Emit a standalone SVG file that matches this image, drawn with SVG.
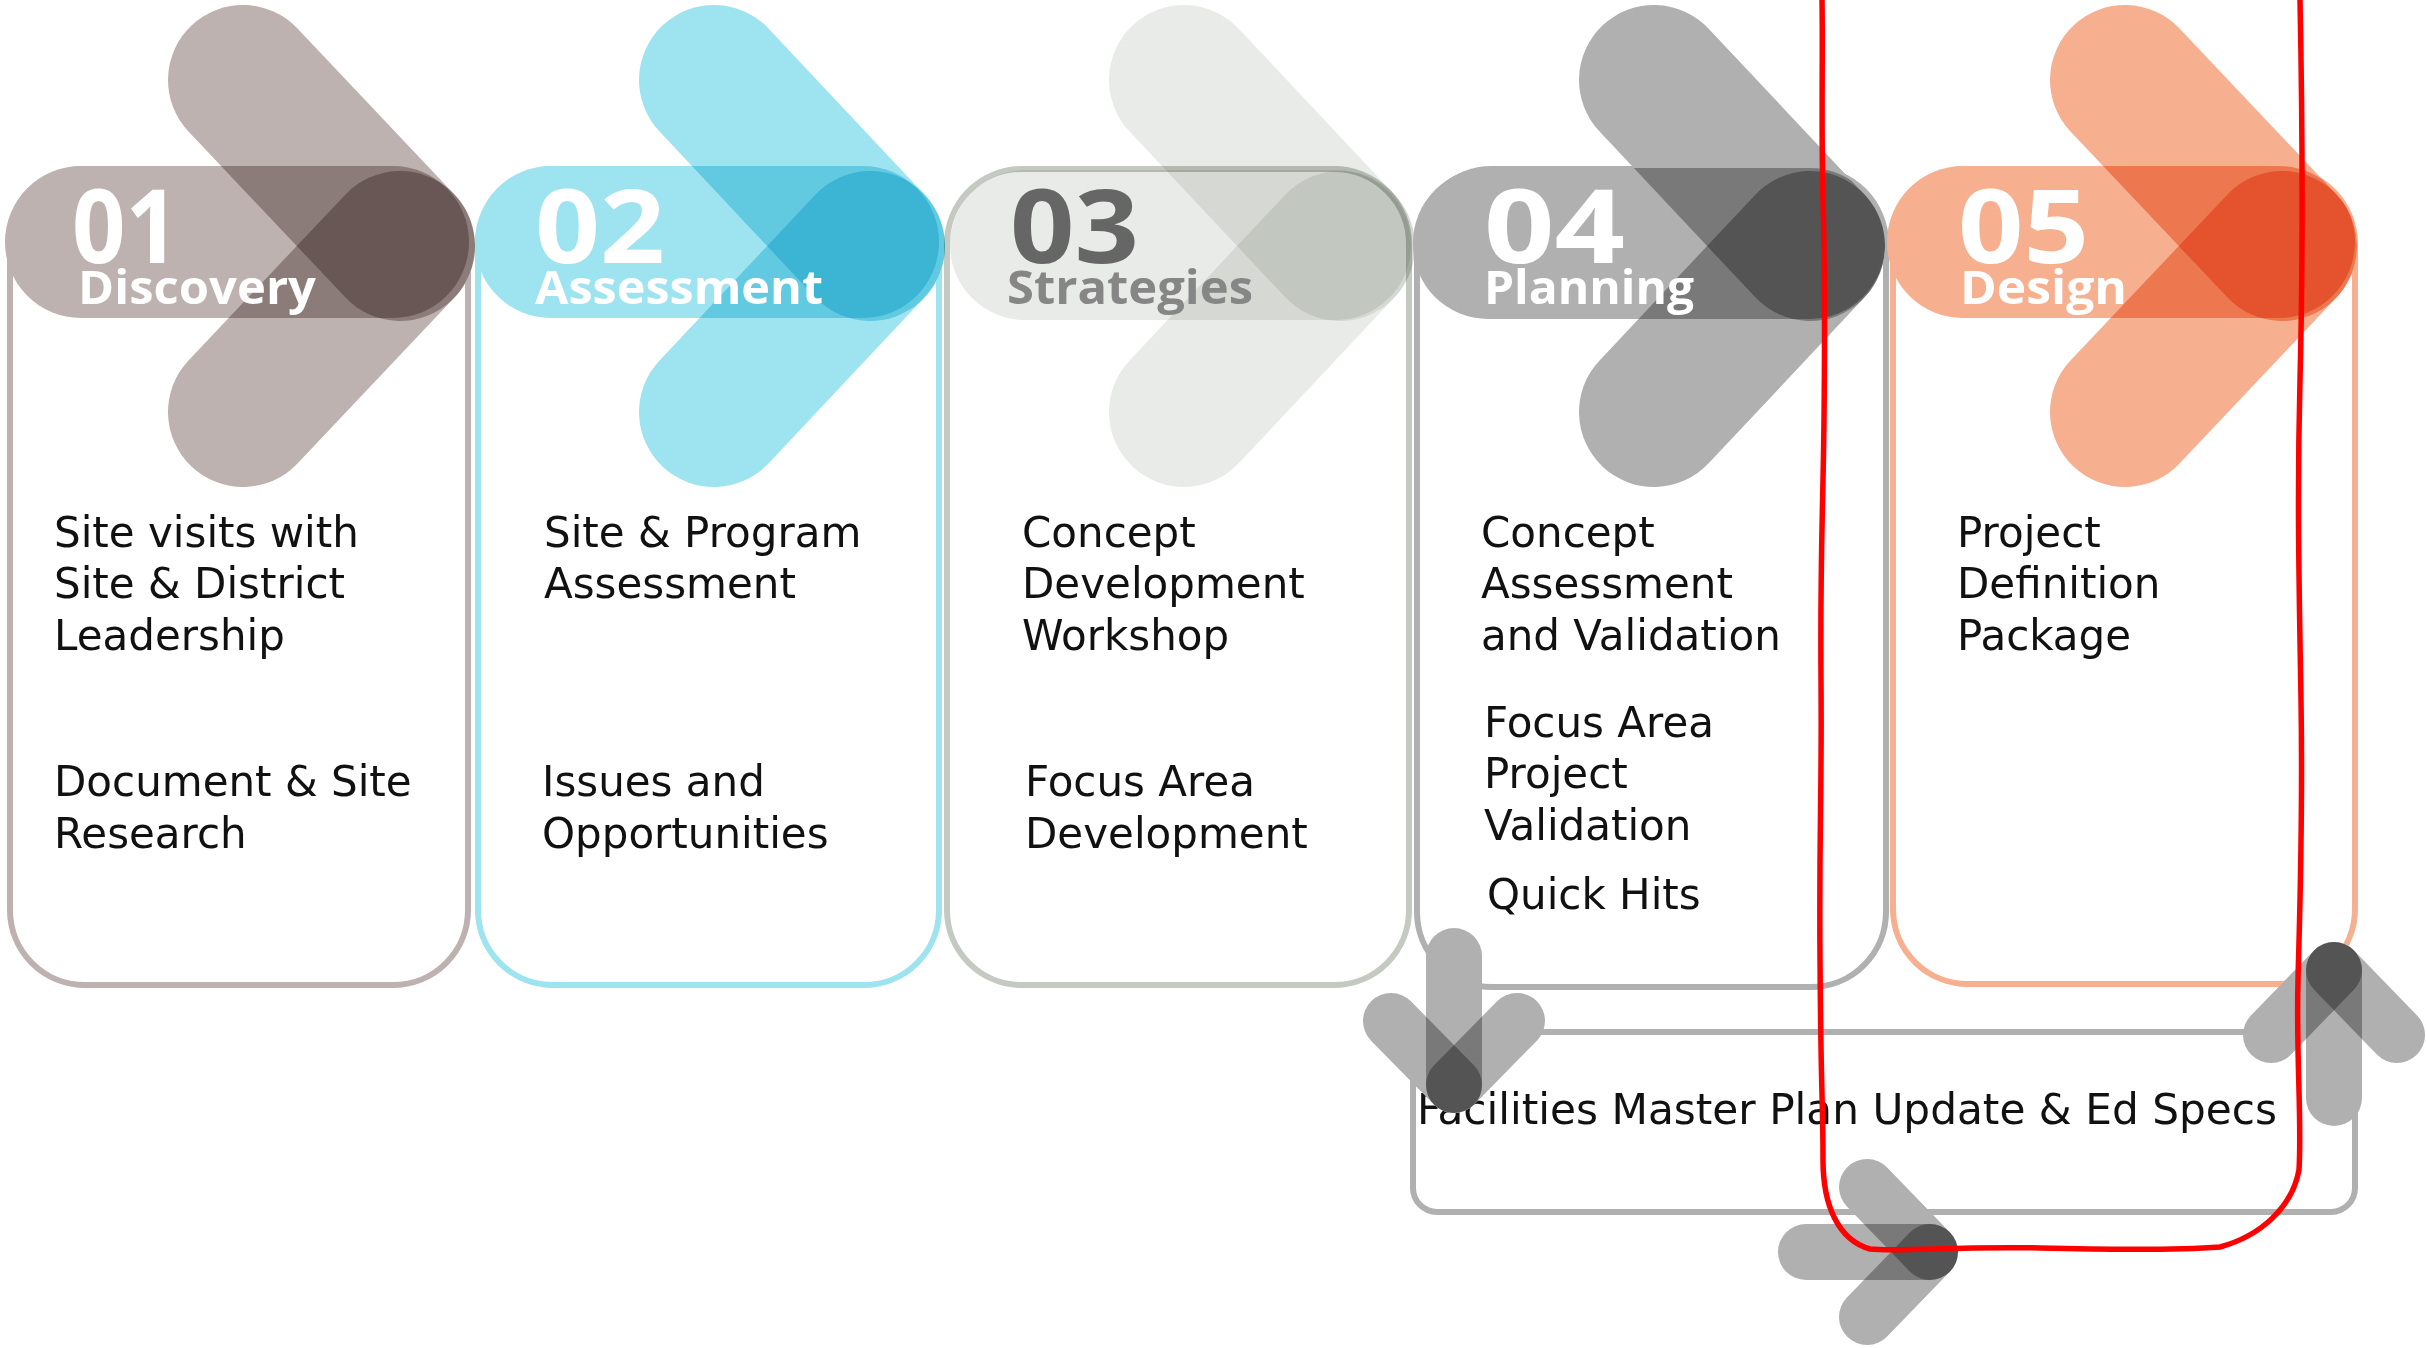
<svg xmlns="http://www.w3.org/2000/svg" width="2426" height="1348" viewBox="0 0 2426 1348">
<style>
.body{font-family:"DejaVu Sans",sans-serif;font-size:42px;fill:#111}
.num{font-family:"Open Sans",sans-serif;font-weight:700;font-size:102px}
.ttl{font-family:"Open Sans",sans-serif;font-weight:700;font-size:46px}
.m{mix-blend-mode:multiply}
.iso{isolation:isolate}
.out{fill:none;stroke-width:6}
.arm{fill:none;stroke-width:150;stroke-linecap:round;mix-blend-mode:multiply}
.marm{fill:none;stroke:#B0B0B0;stroke-width:56;stroke-linecap:round;mix-blend-mode:multiply}
.red{fill:none;stroke:#FF0000;stroke-width:5.5;stroke-linecap:round;stroke-linejoin:round}
</style>
<rect width="2426" height="1348" fill="#fff"/>

<g id="card1">
<rect class="out" x="10" y="169" width="458" height="816" rx="75" stroke="#BDB2B0"/>
<g class="iso">
<rect class="m" x="5" y="166" width="464" height="152" rx="76" fill="#BDB2B0"/>
<path class="arm" stroke="#BDB2B0" d="M243 80 L400 246"/>
<path class="arm" stroke="#BDB2B0" d="M243 412 L400 246"/>
</g>
</g>

<g id="card2">
<rect class="out" x="478" y="169" width="461" height="816" rx="75" stroke="#9DE3F0"/>
<g class="iso">
<rect class="m" x="475" y="166" width="464" height="152" rx="76" fill="#9DE3F0"/>
<path class="arm" stroke="#9DE3F0" d="M714 80 L870 246"/>
<path class="arm" stroke="#9DE3F0" d="M714 412 L870 246"/>
</g>
</g>

<g id="card3">
<g class="iso">
<rect class="m" x="950" y="170" width="461" height="150" rx="75" fill="#E9EBE8"/>
<path class="arm" stroke="#E9EBE8" d="M1184 80 L1340 246"/>
<path class="arm" stroke="#E9EBE8" d="M1184 412 L1340 246"/>
</g>
<rect class="out m" x="947" y="169" width="462" height="816" rx="75" stroke="#C4C9C2"/>
</g>

<g id="card4">
<rect class="out" x="1417" y="169" width="469" height="818" rx="75" stroke="#B0B0B0"/>
<g class="iso">
<rect class="m" x="1413" y="168" width="472" height="151" rx="75" fill="#B0B0B0"/>
<path class="arm" stroke="#B0B0B0" d="M1654 80 L1810 246"/>
<path class="arm" stroke="#B0B0B0" d="M1654 412 L1810 246"/>
</g>
</g>

<g id="card5">
<rect class="out" x="1893" y="169" width="462" height="815" rx="75" stroke="#F6AF8F"/>
<g class="iso">
<rect class="m" x="1887" y="166" width="468" height="152" rx="76" fill="#F6AF8F"/>
<path class="arm" stroke="#F6AF8F" d="M2125 80 L2282 246"/>
<path class="arm" stroke="#F6AF8F" d="M2125 412 L2282 246"/>
</g>
</g>

<g id="headers">
<text class="num" x="72" y="263" fill="#fff" textLength="107" lengthAdjust="spacingAndGlyphs">01</text>
<text class="ttl" x="78" y="304" fill="#fff" textLength="238" lengthAdjust="spacingAndGlyphs">Discovery</text>
<text class="num" x="535" y="263" fill="#fff" textLength="130" lengthAdjust="spacingAndGlyphs">02</text>
<text class="ttl" x="535" y="304" fill="#fff" textLength="288" lengthAdjust="spacingAndGlyphs">Assessment</text>
<text class="num" x="1010" y="263" fill="#666" textLength="129" lengthAdjust="spacingAndGlyphs">03</text>
<text class="ttl" x="1007" y="304" fill="#868686" textLength="246" lengthAdjust="spacingAndGlyphs">Strategies</text>
<text class="num" x="1484" y="263" fill="#fff" textLength="141" lengthAdjust="spacingAndGlyphs">04</text>
<text class="ttl" x="1484" y="304" fill="#fff" textLength="210" lengthAdjust="spacingAndGlyphs">Planning</text>
<text class="num" x="1958" y="263" fill="#fff" textLength="131" lengthAdjust="spacingAndGlyphs">05</text>
<text class="ttl" x="1960" y="304" fill="#fff" textLength="167" lengthAdjust="spacingAndGlyphs">Design</text>
</g>

<g id="card1-text">
<text class="body" x="54" y="547">Site visits with</text>
<text class="body" x="54" y="598">Site &amp; District</text>
<text class="body" x="54" y="650">Leadership</text>
<text class="body" x="54" y="796">Document &amp; Site</text>
<text class="body" x="54" y="848">Research</text>
</g>
<g id="card2-text">
<text class="body" x="544" y="547">Site &amp; Program</text>
<text class="body" x="544" y="598">Assessment</text>
<text class="body" x="542" y="796">Issues and</text>
<text class="body" x="542" y="848">Opportunities</text>
</g>
<g id="card3-text">
<text class="body" x="1022" y="547">Concept</text>
<text class="body" x="1022" y="598">Development</text>
<text class="body" x="1022" y="650">Workshop</text>
<text class="body" x="1025" y="796">Focus Area</text>
<text class="body" x="1025" y="848">Development</text>
</g>
<g id="card4-text">
<text class="body" x="1481" y="547">Concept</text>
<text class="body" x="1481" y="598">Assessment</text>
<text class="body" x="1481" y="650">and Validation</text>
<text class="body" x="1484" y="737">Focus Area</text>
<text class="body" x="1484" y="788">Project</text>
<text class="body" x="1484" y="840">Validation</text>
<text class="body" x="1487" y="909">Quick Hits</text>
</g>
<g id="card5-text">
<text class="body" x="1957" y="547">Project</text>
<text class="body" x="1957" y="598">Definition</text>
<text class="body" x="1957" y="650">Package</text>
</g>

<g id="fmp">
<rect class="out" x="1413" y="1032" width="942" height="180" rx="24" stroke="#B0B0B0"/>
<text class="body" x="1417" y="1124" textLength="860" lengthAdjust="spacingAndGlyphs">Facilities Master Plan Update &amp; Ed Specs</text>
</g>

<g id="connectors">
<g class="iso">
<path class="marm" d="M1454 956 L1454 1085"/>
<path class="marm" d="M1391 1021 L1454 1085"/>
<path class="marm" d="M1517 1021 L1454 1085"/>
</g>
<g class="iso">
<path class="marm" d="M2334 1098 L2334 970"/>
<path class="marm" d="M2271 1035 L2334 970"/>
<path class="marm" d="M2397 1035 L2334 970"/>
</g>
<g class="iso">
<path class="marm" d="M1806 1252 L1930 1252"/>
<path class="marm" d="M1867 1187 L1930 1252"/>
<path class="marm" d="M1867 1317 L1930 1252"/>
</g>
</g>

<path class="red" d="M1822,0 C1823,60 1821,120 1823,200 S1825,330 1824,420 S1820,560 1821,680 S1819,820 1820,960 S1823,1100 1823,1160 C1823,1205 1838,1240 1870,1249 C1900,1252 1960,1246 2040,1248 S2180,1250 2220,1247 C2260,1236 2292,1208 2299,1170 C2302,1120 2296,1060 2298,980 S2303,820 2301,700 S2297,500 2300,380 S2303,150 2300,0"/>
</svg>
